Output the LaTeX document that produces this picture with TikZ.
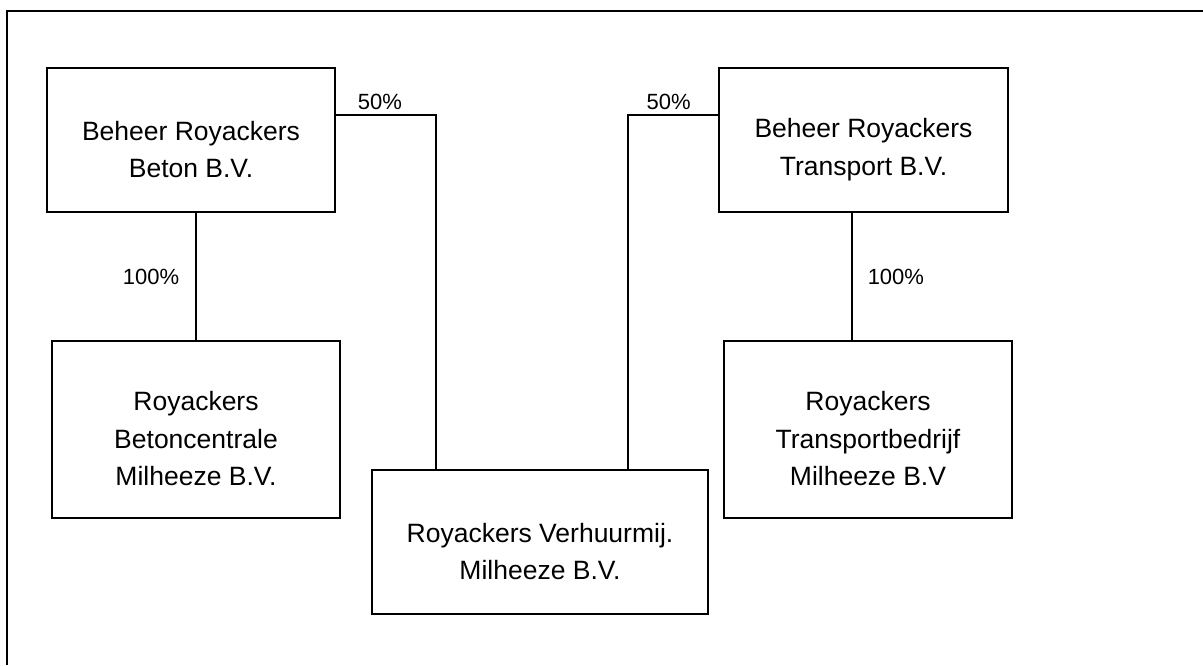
\documentclass[tikz,border=0pt]{standalone}
\usepackage{fontspec}
\setmainfont{Liberation Sans}
\usetikzlibrary{positioning,calc}
\definecolor{ink}{HTML}{000000}
\newcommand{\firmfont}{\fontsize{26.5}{37.5}\selectfont}
\newcommand{\pctfont}{\fontsize{22}{26}\selectfont}
\newcommand{\hi}{\rule{0pt}{38pt}}
\tikzset{firm/.style={draw=ink,line width=1.6pt,align=center,font=\firmfont,inner sep=0pt},
  link/.style={draw=ink,line width=1.5pt},
  pct/.style={font=\pctfont,inner sep=0pt,text=ink}}

\begin{document}
\begin{tikzpicture}[x=1pt,y=-1pt]
    \useasboundingbox (0,0) rectangle (1203,665);
    \draw[ink,line width=2pt] (7,665)--(7,11)--(1203,11);
    % holdings
    \node[firm,minimum width=288,minimum height=144] (beton) at (191,140) {\hi Beheer Royackers\\Beton B.V.};
    \node[firm,minimum width=289,minimum height=144] (transport) at (863.5,140) {\hi Beheer Royackers\\Transport B.V.};
    % daughters
    \node[firm,minimum width=288,minimum height=177] (centrale) at (196,429.5) {\hi Royackers\\Betoncentrale\\Milheeze B.V.};
    \node[firm,minimum width=288,minimum height=177] (bedrijf) at (868,429.5) {\hi Royackers\\Transportbedrijf\\Milheeze B.V};
    \node[firm,minimum width=336,minimum height=144] (verhuur) at (540,542) {\hi Royackers Verhuurmij.\\Milheeze B.V.};
    \draw[link] (centrale.north)--(centrale.north |- beton.south)
      node[pct,midway,left=16pt]{100\%};
    \draw[link] ([xshift=-16pt]bedrijf.north)--([xshift=-16pt]bedrijf.north |- transport.south)
      node[pct,midway,right=15pt]{100\%};
    \draw[link] ([yshift=25pt]beton.east)-|([xshift=-104pt]verhuur.north)
      node[pct,pos=.22,above=5pt]{50\%};
    \draw[link] ([yshift=25pt]transport.west)-|([xshift=88pt]verhuur.north)
      node[pct,pos=.275,above=5pt]{50\%};
  \end{tikzpicture}
\end{document}
